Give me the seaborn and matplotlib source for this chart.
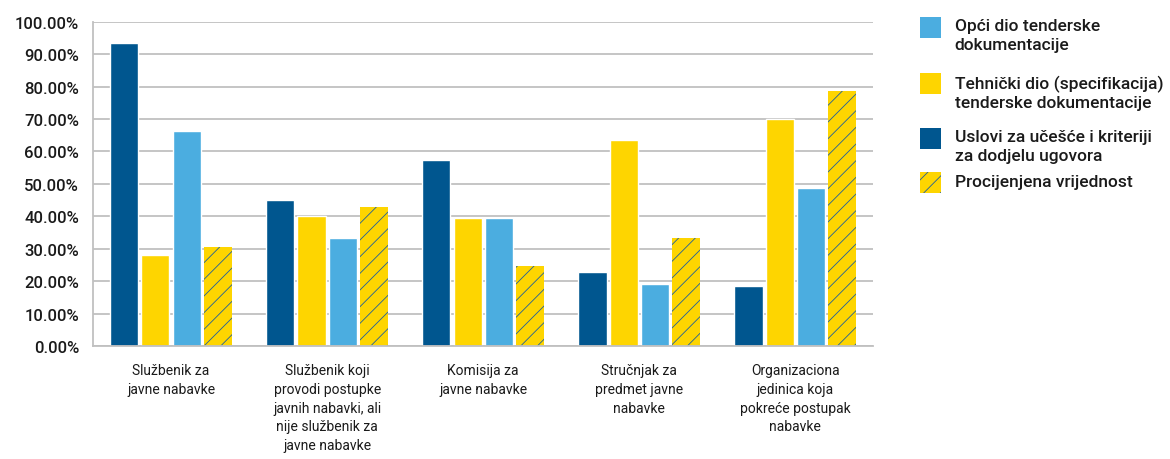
import matplotlib
matplotlib.use("Agg")
import matplotlib.pyplot as plt
from matplotlib.patches import Rectangle
from matplotlib.ticker import FuncFormatter, FixedLocator
import pandas as pd
import seaborn as sns

categories = [
    "Službenik za\njavne nabavke",
    "Službenik koji\nprovodi postupke\njavnih nabavki, ali\nnije službenik za\njavne nabavke",
    "Komisija za\njavne nabavke",
    "Stručnjak za\npredmet javne\nnabavke",
    "Organizaciona\njedinica koja\npokreće postupak\nnabavke",
]

series_names = [
    "Uslovi za učešće i kriteriji\nza dodjelu ugovora",
    "Tehnički dio (specifikacija)\ntenderske dokumentacije",
    "Opći dio tenderske\ndokumentacije",
    "Procijenjena vrijednost",
]

uslovi = [93.3, 45.1, 57.3, 22.9, 18.4]
tehnicki = [28.0, 40.0, 39.5, 63.4, 70.0]
opci = [66.3, 33.4, 39.5, 19.0, 48.6]
procijenjena = [30.5, 42.8, 24.8, 33.4, 78.6]

values = [uslovi, tehnicki, opci, procijenjena]
colors = ["#00568f", "#fed500", "#4bade0", "#fed500"]
legend_order = [2, 1, 0, 3]

rows = []
for name, vals in zip(series_names, values):
    for cat, v in zip(categories, vals):
        rows.append((cat, name, v))
df = pd.DataFrame(rows, columns=["kategorija", "serija", "vrijednost"])

sns.set_style("white")
plt.rcParams["font.family"] = ["Roboto", "DejaVu Sans"]
plt.rcParams["hatch.linewidth"] = 0.6

fig = plt.figure(figsize=(11.7, 4.6), dpi=100)
ax = fig.add_axes([0.0795, 0.2457, 0.667, 0.705])

sns.barplot(data=df, x="kategorija", y="vrijednost", hue="serija",
            order=categories, hue_order=series_names, palette=colors,
            width=0.8, gap=0.1, saturation=1, legend=False, ax=ax)

for bar in ax.containers[3]:
    bar.set_hatch("//")
    bar.set_edgecolor("#1f5f9a")
    bar.set_linewidth(0)

grid_col = "#c0c0c0"
ax.set_ylim(0, 100)
ax.set_xlim(-0.5, 4.5)
ax.yaxis.set_major_locator(FixedLocator(range(0, 101, 10)))
ax.yaxis.set_major_formatter(FuncFormatter(lambda v, p: f"{v:.2f}%"))
ax.grid(axis="y", color=grid_col, linewidth=1.3)
ax.set_axisbelow(True)
for s in ["top", "right"]:
    ax.spines[s].set_visible(False)
for s in ["left", "bottom"]:
    ax.spines[s].set_color(grid_col)
    ax.spines[s].set_linewidth(1.3)
ax.tick_params(axis="y", length=5, color=grid_col, width=1.3, pad=5,
               labelsize=12, labelcolor="#1a1a1a")
for lbl in ax.get_yticklabels():
    lbl.set_fontweight("medium")
ax.set_xticks([i - 0.5 for i in range(6)], minor=True)
ax.tick_params(axis="x", which="minor", length=6, color=grid_col, width=1.3)
ax.tick_params(axis="x", which="major", length=0, pad=12, labelsize=10,
               labelcolor="#1a1a1a")
for lbl in ax.get_xticklabels():
    lbl.set_linespacing(1.45)
ax.set_xlabel("")
ax.set_ylabel("")

# legend
y_tops = [0.961, 0.839, 0.720, 0.623]
for k, idx in enumerate(legend_order):
    sq = Rectangle((0.786, y_tops[k] - 0.045), 0.0179, 0.045,
                   transform=fig.transFigure, facecolor=colors[idx],
                   edgecolor="#1f5f9a" if idx == 3 else "none",
                   hatch="//" if idx == 3 else None, linewidth=0)
    fig.add_artist(sq)
    fig.text(0.816, y_tops[k] - 0.003, series_names[idx], va="top", ha="left",
             fontsize=12.5, fontweight="medium", color="#1a1a1a",
             linespacing=1.3)

fig.savefig("out.png", dpi=100)
